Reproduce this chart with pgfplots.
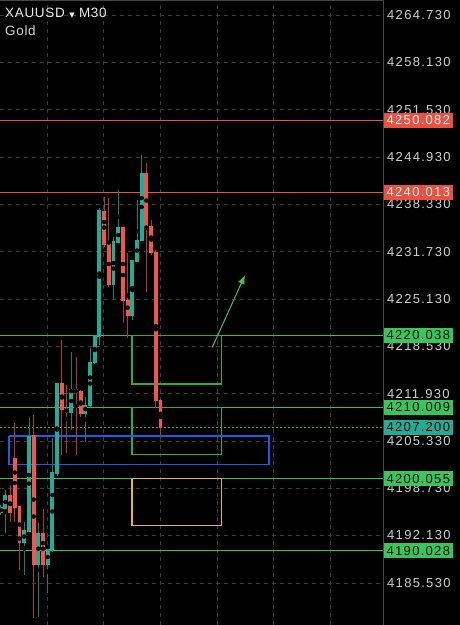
\documentclass[border=0pt]{standalone}
\usepackage{fontspec}
\setmainfont{Liberation Sans}
\newfontfamily\tickfont[LetterSpace=10]{Liberation Sans}
\newfontfamily\titlefont[LetterSpace=5]{Liberation Sans}
\newfontfamily\symfont{DejaVu Sans}
\usepackage{pgfplots}
\pgfplotsset{compat=1.18}
\usepackage{pgfplotstable}
\usetikzlibrary{arrows.meta}

\definecolor{candleG}{RGB}{34,171,150}
\definecolor{candleR}{RGB}{242,84,78}
\definecolor{levelR}{RGB}{235,80,65}
\definecolor{levelG}{RGB}{52,190,80}
\definecolor{labelG}{RGB}{52,199,89}
\definecolor{boxG}{RGB}{46,170,72}
\definecolor{boxB}{RGB}{30,90,235}
\definecolor{boxO}{RGB}{230,178,74}
\definecolor{arrowG}{RGB}{60,196,90}
\definecolor{gridc}{RGB}{58,58,58}
\definecolor{bordc}{RGB}{70,70,70}
\definecolor{tickc}{RGB}{205,205,205}

% candles: index, open, high, low, close
\pgfplotstableread{
i o h l c
0 4195.41 4196.39 4194.99 4195.97
1 4195.97 4198.48 4192.48 4197.64
5 4191.23 4194.02 4186.62 4192.76
6 4192.76 4208.52 4192.62 4206.01
8 4188.16 4193.88 4180.77 4192.48
10 4188.16 4190.11 4184.11 4190.11
11 4190.11 4205.73 4189.83 4200.85
12 4200.85 4213.40 4200.43 4213.26
15 4209.36 4217.73 4206.85 4212.43
18 4209.22 4211.45 4205.17 4210.33
19 4210.33 4218.28 4210.05 4216.33
20 4216.33 4219.96 4216.05 4219.96
21 4219.96 4237.81 4218.70 4237.39
24 4227.21 4233.76 4224.98 4233.07
25 4233.07 4240.32 4232.93 4235.02
28 4222.89 4230.56 4222.19 4230.42
29 4230.42 4238.92 4230.28 4233.35
30 4233.35 4245.20 4233.21 4242.55
}\greenT

\pgfplotstableread{
i o h l c
2 4197.64 4199.18 4194.02 4195.41
3 4202.80 4207.82 4194.02 4196.11
4 4196.11 4196.11 4187.32 4191.23
7 4206.15 4208.94 4180.63 4188.16
9 4192.48 4195.83 4186.34 4188.16
13 4213.26 4219.40 4203.36 4209.78
14 4209.78 4213.12 4203.64 4209.36
16 4212.43 4217.03 4203.36 4212.15
17 4212.15 4212.43 4208.66 4209.22
22 4237.39 4239.34 4232.37 4232.79
23 4232.79 4239.20 4226.79 4227.21
26 4235.02 4235.16 4221.77 4224.98
27 4224.98 4231.53 4219.68 4222.89
31 4242.55 4244.09 4226.09 4235.16
32 4235.16 4236.14 4231.25 4231.67
33 4231.67 4231.95 4209.91 4211.03
34 4211.03 4211.17 4206.15 4207.20
}\redT

\begin{document}
\begin{tikzpicture}
\useasboundingbox (0,0) rectangle (460pt,625pt);
\fill[black] (0,0) rectangle (460pt,625pt);
\begin{axis}[
  at={(0,0)}, anchor=south west,
  scale only axis, width=383pt, height=625pt,
  xmin=-0.15, xmax=81.34, ymin=4179.65, ymax=4266.82,
  axis line style={draw=none},
  xtick={9.85,21.9,33.95,46.0,58.05,70.1}, xticklabels={},
  ytick={4185.53,4192.13,4198.73,4205.33,4211.93,4218.53,4225.13,4231.73,4238.33,4244.93,4251.53,4258.13,4264.73},
  yticklabels={4185.530,4192.130,4198.730,4205.330,4211.930,4218.530,4225.130,4231.730,4238.330,4244.930,4251.530,4258.130,4264.730},
  yticklabel pos=right,
  tick style={draw=none},
  yticklabel style={anchor=west, inner sep=0pt, xshift=4pt, text=tickc, font=\tickfont\fontsize{13}{15}\selectfont},
  xmajorgrids, ymajorgrids,
  grid style={gridc, dash pattern=on 4pt off 4pt, line width=0.6pt},
  clip=true,
]
% level lines
\addplot[levelR, line width=1pt] coordinates {(-0.15,4250.082) (81.34,4250.082)};
\addplot[levelR, line width=1pt] coordinates {(-0.15,4240.013) (81.34,4240.013)};
\addplot[levelG, line width=1pt] coordinates {(-0.15,4220.038) (81.34,4220.038)};
\addplot[levelG, line width=1pt] coordinates {(-0.15,4210.009) (81.34,4210.009)};
\addplot[levelG, line width=1pt] coordinates {(-0.15,4200.055) (81.34,4200.055)};
\addplot[levelG, line width=1pt] coordinates {(-0.15,4190.028) (81.34,4190.028)};
% current price
\addplot[candleG, line width=0.8pt, dash pattern=on 2pt off 2pt] coordinates {(-0.15,4207.20) (81.34,4207.20)};
% boxes
\addplot[boxG, line width=1.1pt] coordinates {(27.94,4220.038) (47.02,4220.038) (47.02,4213.26) (27.94,4213.26) (27.94,4220.038)};
\addplot[boxG, line width=1.1pt] coordinates {(27.94,4210.009) (47.02,4210.009) (47.02,4203.46) (27.94,4203.46) (27.94,4210.009)};
\addplot[boxB, line width=1.2pt] coordinates {(1.77,4206.01) (57.09,4206.01) (57.09,4202.06) (1.77,4202.06) (1.77,4206.01)};
\addplot[boxO, line width=1.1pt] coordinates {(27.94,4200.05) (47.02,4200.05) (47.02,4193.50) (27.94,4193.50) (27.94,4200.05)};
% arrow
\addplot[arrowG, line width=1pt, -{Latex[length=9pt,width=7pt]}] coordinates {(45.02,4218.38) (51.98,4228.46)};
% wicks
\addplot[only marks, mark=none, error bars/.cd, y dir=both, y explicit, error mark=none,
  error bar style={line width=0.8pt, candleG!75!black}]
  table[x=i, y expr={(\thisrow{h}+\thisrow{l})/2}, y error expr={(\thisrow{h}-\thisrow{l})/2}] {\greenT};
\addplot[only marks, mark=none, error bars/.cd, y dir=both, y explicit, error mark=none,
  error bar style={line width=0.8pt, candleR!70!black}]
  table[x=i, y expr={(\thisrow{h}+\thisrow{l})/2}, y error expr={(\thisrow{h}-\thisrow{l})/2}] {\redT};
% bodies
\addplot[only marks, mark=none, error bars/.cd, y dir=both, y explicit, error mark=none,
  error bar style={line width=3.9pt, candleG}]
  table[x=i, y expr={(\thisrow{o}+\thisrow{c})/2}, y error expr={abs(\thisrow{o}-\thisrow{c})/2+0.08}] {\greenT};
\addplot[only marks, mark=none, error bars/.cd, y dir=both, y explicit, error mark=none,
  error bar style={line width=3.9pt, candleR}]
  table[x=i, y expr={(\thisrow{o}+\thisrow{c})/2}, y error expr={abs(\thisrow{o}-\thisrow{c})/2+0.08}] {\redT};
\coordinate (L1) at (axis cs:81.34,4250.082);
\coordinate (L2) at (axis cs:81.34,4240.013);
\coordinate (L3) at (axis cs:81.34,4220.038);
\coordinate (L4) at (axis cs:81.34,4210.009);
\coordinate (L5) at (axis cs:81.34,4207.200);
\coordinate (L6) at (axis cs:81.34,4200.055);
\coordinate (L7) at (axis cs:81.34,4190.028);
\end{axis}
\draw[bordc, line width=0.8pt] (0,624.4pt) -- (383pt,624.4pt) -- (383pt,0);
\tikzset{lab/.style={anchor=west, inner xsep=2.5pt, inner ysep=0pt, minimum height=15pt, font=\tickfont\fontsize{13}{15}\selectfont}}
\node[lab, fill=levelR, text=white] at ([xshift=1pt]L1) {4250.082};
\node[lab, fill=levelR, text=white] at ([xshift=1pt]L2) {4240.013};
\node[lab, fill=labelG, text=black] at ([xshift=1pt]L3) {4220.038};
\node[lab, fill=labelG, text=black] at ([xshift=1pt]L4) {4210.009};
\node[lab, fill=candleG, text=black] at ([xshift=1pt]L5) {4207.200};
\node[lab, fill=labelG, text=black] at ([xshift=1pt]L6) {4200.055};
\node[lab, fill=labelG, text=black] at ([xshift=1pt]L7) {4190.028};
\node[anchor=west, inner sep=0pt, text={rgb,255:red,235;green,235;blue,235}, font=\titlefont\fontsize{13.5}{15}\selectfont] at (5pt,612pt) {XAUUSD {\symfont\fontsize{7}{8}\selectfont ▼} M30};
\node[anchor=west, inner sep=0pt, text={rgb,255:red,210;green,210;blue,210}, font=\titlefont\fontsize{13.5}{15}\selectfont] at (5pt,594pt) {Gold};
\end{tikzpicture}
\end{document}
